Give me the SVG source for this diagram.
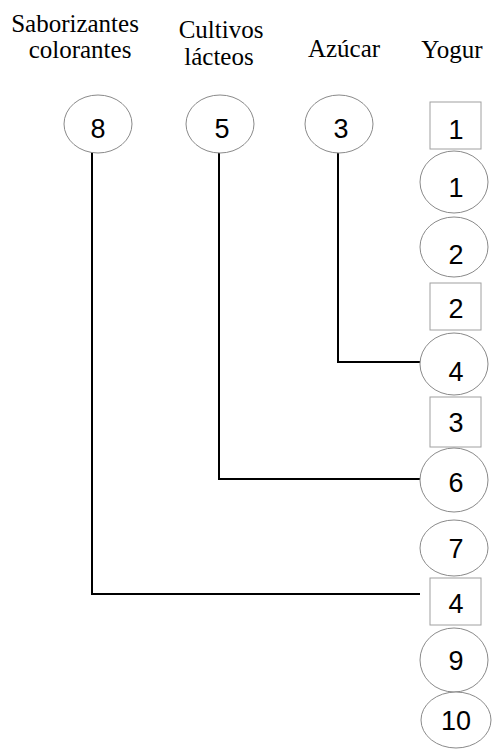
<svg xmlns="http://www.w3.org/2000/svg" width="493" height="751" viewBox="0 0 493 751">
<style>
.lbl{font-family:"Liberation Serif","Times New Roman",serif;font-size:25px;fill:#000;text-anchor:middle}
.num{font-family:"Liberation Sans",Arial,sans-serif;font-size:27px;fill:#000;text-anchor:middle}
.c{fill:#fff;stroke:#8a8a8a;stroke-width:1}
.b{fill:#fff;stroke:#a0a0a0;stroke-width:1}
.ln{fill:none;stroke:#000;stroke-width:2}
</style>
<rect width="493" height="751" fill="#fff"/>
<g id="labels">
<text class="lbl" x="75" y="32">Saborizantes</text>
<text class="lbl" x="80" y="58">colorantes</text>
<text class="lbl" x="221" y="38">Cultivos</text>
<text class="lbl" x="219" y="65">lácteos</text>
<text class="lbl" x="344" y="57">Azúcar</text>
<text class="lbl" x="452" y="58">Yogur</text>
</g>
<g id="connectors">
<polyline class="ln" points="338,152 338,362 420,362"/>
<polyline class="ln" points="219,152 219,479 420,479"/>
<polyline class="ln" points="92,152 92,594 420,594"/>
</g>
<g id="n-sab"><ellipse class="c" cx="98" cy="124" rx="34" ry="29"/><text class="num" x="98" y="138">8</text></g>
<g id="n-cul"><ellipse class="c" cx="220" cy="124" rx="34" ry="29"/><text class="num" x="222" y="138">5</text></g>
<g id="n-azu"><ellipse class="c" cx="339" cy="124" rx="34" ry="29"/><text class="num" x="341" y="138">3</text></g>
<g id="y-b1"><rect class="b" x="430" y="102" width="51" height="47"/><text class="num" x="456" y="139">1</text></g>
<g id="y-c1"><ellipse class="c" cx="454" cy="182" rx="34" ry="31"/><text class="num" x="456" y="197">1</text></g>
<g id="y-c2"><ellipse class="c" cx="454" cy="247" rx="34" ry="30"/><text class="num" x="456" y="264">2</text></g>
<g id="y-b2"><rect class="b" x="430" y="283" width="51" height="47"/><text class="num" x="456" y="318">2</text></g>
<g id="y-c4"><ellipse class="c" cx="454" cy="364" rx="34" ry="31"/><text class="num" x="456" y="381">4</text></g>
<g id="y-b3"><rect class="b" x="430" y="397" width="51" height="50"/><text class="num" x="456" y="432">3</text></g>
<g id="y-c6"><ellipse class="c" cx="454" cy="480" rx="34" ry="32"/><text class="num" x="456" y="492">6</text></g>
<g id="y-c7"><ellipse class="c" cx="454" cy="548" rx="34" ry="28"/><text class="num" x="456" y="558">7</text></g>
<g id="y-b4"><rect class="b" x="430" y="578" width="51" height="47"/><text class="num" x="456" y="613">4</text></g>
<g id="y-c9"><ellipse class="c" cx="454" cy="660" rx="34" ry="32"/><text class="num" x="456" y="670">9</text></g>
<g id="y-c10"><ellipse class="c" cx="456" cy="720" rx="35" ry="28"/><text class="num" x="456" y="730">10</text></g>
</svg>
